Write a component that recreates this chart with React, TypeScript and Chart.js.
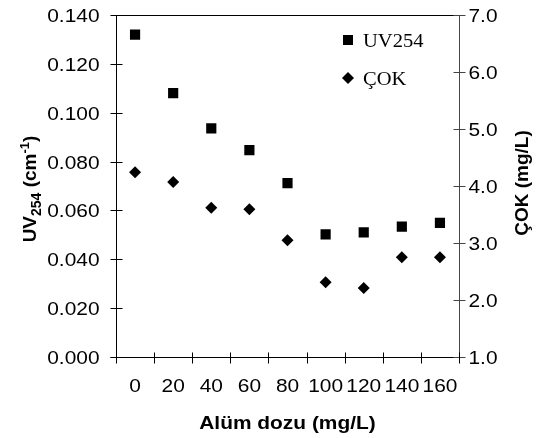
import React, { useEffect, useRef } from 'react';
import { Chart, registerables } from 'chart.js';

Chart.register(...registerables);

const categories = ['0', '20', '40', '60', '80', '100', '120', '140', '160'];
const uv254Values = [0.132, 0.108, 0.0936, 0.0847, 0.0712, 0.0502, 0.051, 0.0534, 0.0549];
const cokValues = [4.24, 4.07, 3.62, 3.59, 3.05, 2.31, 2.21, 2.75, 2.75];
const leftAxis = { min: 0, max: 0.14, step: 0.02 };
const rightAxis = { min: 1, max: 7, step: 1 };
const xTitle = 'Alüm dozu (mg/L)';
const rightTitle = 'ÇOK (mg/L)';
const legendLabels = ['UV254', 'ÇOK'];

const SANS = '"Liberation Sans", Arial, sans-serif';
const SERIF = '"Liberation Serif", "Times New Roman", serif';
const STRETCH = 1.1;

function line(ctx: CanvasRenderingContext2D, x1: number, y1: number, x2: number, y2: number) {
  ctx.beginPath();
  ctx.moveTo(x1, y1);
  ctx.lineTo(x2, y2);
  ctx.stroke();
}

function stretchedText(ctx: CanvasRenderingContext2D, text: string, x: number, y: number, sx = STRETCH) {
  ctx.save();
  ctx.translate(x, y);
  ctx.scale(sx, 1);
  ctx.fillText(text, 0, 0);
  ctx.restore();
}

const decorPlugin = {
  id: 'decor',
  afterDraw(chart: any) {
    const ctx: CanvasRenderingContext2D = chart.ctx;
    const ca = chart.chartArea;
    const xs = chart.scales.x;
    const ys = chart.scales.y;
    const y1s = chart.scales.y1;
    const L = Math.round(ca.left) + 0.5;
    const R = Math.round(ca.right) + 0.5;
    const T = Math.round(ca.top) + 0.5;
    const B = Math.round(ca.bottom) + 0.5;
    ctx.save();
    ctx.lineWidth = 1;
    ctx.strokeStyle = '#000';
    // frame
    line(ctx, L, T, R, T);
    line(ctx, L, T, L, B);
    line(ctx, L - 6, B, R + 1, B);
    ctx.strokeStyle = '#444';
    line(ctx, R, T, R, B);

    // left ticks + labels
    ctx.fillStyle = '#000';
    ctx.font = `19px ${SANS}`;
    ctx.textBaseline = 'middle';
    ctx.textAlign = 'right';
    ctx.strokeStyle = '#000';
    ys.ticks.forEach((t: any, i: number) => {
      const py = Math.round(ys.getPixelForTick(i)) + 0.5;
      line(ctx, L - 6, py, L + 6, py);
      stretchedText(ctx, Number(t.value).toFixed(3), L - 17, py + 1);
    });
    // right ticks + labels
    ctx.textAlign = 'left';
    ctx.strokeStyle = '#444';
    y1s.ticks.forEach((t: any, i: number) => {
      const py = Math.round(y1s.getPixelForTick(i)) + 0.5;
      line(ctx, R - 6, py, R + 6, py);
      stretchedText(ctx, Number(t.value).toFixed(1), R + 9, py + 1);
    });
    // x ticks at category boundaries
    ctx.strokeStyle = '#000';
    for (let i = 0; i <= categories.length; i++) {
      const px = Math.round(xs.getPixelForValue(i - 0.5)) + 0.5;
      line(ctx, px, B - 5, px, B + 6);
    }
    ctx.textAlign = 'center';
    categories.forEach((c, i) => {
      const px = xs.getPixelForValue(i);
      stretchedText(ctx, c, px, B + 29);
    });

    // x title
    ctx.font = `bold 19px ${SANS}`;
    ctx.textAlign = 'center';
    stretchedText(ctx, xTitle, (ca.left + ca.right) / 2, 424);

    // left title (rotated, with sub/superscript)
    const parts: Array<[string, number, number]> = [
      ['UV', 19, 0],
      ['254', 14, 5],
      [' (cm', 19, 0],
      ['-1', 13, -7],
      [')', 19, 0],
    ];
    let total = 0;
    parts.forEach(([s, sz]) => {
      ctx.font = `bold ${sz}px ${SANS}`;
      total += ctx.measureText(s).width;
    });
    ctx.save();
    ctx.translate(36, 189);
    ctx.rotate(-Math.PI / 2);
    ctx.textAlign = 'left';
    ctx.textBaseline = 'alphabetic';
    let cx = -total / 2;
    parts.forEach(([s, sz, dy]) => {
      ctx.font = `bold ${sz}px ${SANS}`;
      ctx.fillText(s, cx, dy);
      cx += ctx.measureText(s).width;
    });
    ctx.restore();

    // right title
    ctx.save();
    ctx.translate(523, 183);
    ctx.rotate(-Math.PI / 2);
    ctx.font = `bold 19px ${SANS}`;
    ctx.textAlign = 'center';
    ctx.textBaseline = 'middle';
    ctx.fillText(rightTitle, 0, 0);
    ctx.restore();

    // legend
    ctx.fillStyle = '#000';
    ctx.fillRect(343, 35, 10, 10);
    ctx.beginPath();
    ctx.moveTo(348, 72);
    ctx.lineTo(354, 78);
    ctx.lineTo(348, 84);
    ctx.lineTo(342, 78);
    ctx.closePath();
    ctx.fill();
    ctx.font = `19px ${SERIF}`;
    ctx.textAlign = 'left';
    ctx.textBaseline = 'alphabetic';
    stretchedText(ctx, legendLabels[0], 363, 47, 1.08);
    stretchedText(ctx, legendLabels[1], 363, 85, 1.08);
    ctx.restore();
  },
};

export default function App() {
  const ref = useRef<HTMLCanvasElement | null>(null);
  useEffect(() => {
    document.body.style.margin = '0';
    const canvas = ref.current;
    if (!canvas) return;
    const chart = new Chart(canvas, {
      type: 'line',
      data: {
        labels: categories,
        datasets: [
          {
            label: legendLabels[0],
            data: uv254Values,
            yAxisID: 'y',
            showLine: false,
            pointStyle: 'rect',
            pointRadius: 7.2,
            pointBackgroundColor: '#000',
            pointBorderColor: '#000',
            pointBorderWidth: 0,
            borderColor: '#000',
            backgroundColor: '#000',
          },
          {
            label: legendLabels[1],
            data: cokValues,
            yAxisID: 'y1',
            showLine: false,
            pointStyle: 'rectRot',
            pointRadius: 6,
            pointBackgroundColor: '#000',
            pointBorderColor: '#000',
            pointBorderWidth: 0,
            borderColor: '#000',
            backgroundColor: '#000',
          },
        ],
      },
      options: {
        responsive: false,
        animation: false,
        events: [],
        layout: { padding: { top: 15, left: 0, right: 0, bottom: 0 } },
        plugins: { legend: { display: false }, tooltip: { enabled: false } },
        scales: {
          x: {
            type: 'category',
            offset: true,
            grid: { display: false },
            border: { display: false },
            ticks: { display: false },
            afterFit: (s: any) => { s.height = 81; },
          },
          y: {
            position: 'left',
            min: leftAxis.min,
            max: leftAxis.max,
            ticks: { display: false, stepSize: leftAxis.step },
            grid: { display: false },
            border: { display: false },
            afterFit: (s: any) => { s.width = 116; },
          },
          y1: {
            position: 'right',
            min: rightAxis.min,
            max: rightAxis.max,
            ticks: { display: false, stepSize: rightAxis.step },
            grid: { display: false },
            border: { display: false },
            afterFit: (s: any) => { s.width = 77; },
          },
        },
      } as any,
      plugins: [decorPlugin],
    });
    return () => chart.destroy();
  }, []);
  return (
    <div style={{ position: 'absolute', left: 0, top: 0, width: 536, height: 438, background: '#fff' }}>
      <canvas ref={ref} width={536} height={438} />
    </div>
  );
}
